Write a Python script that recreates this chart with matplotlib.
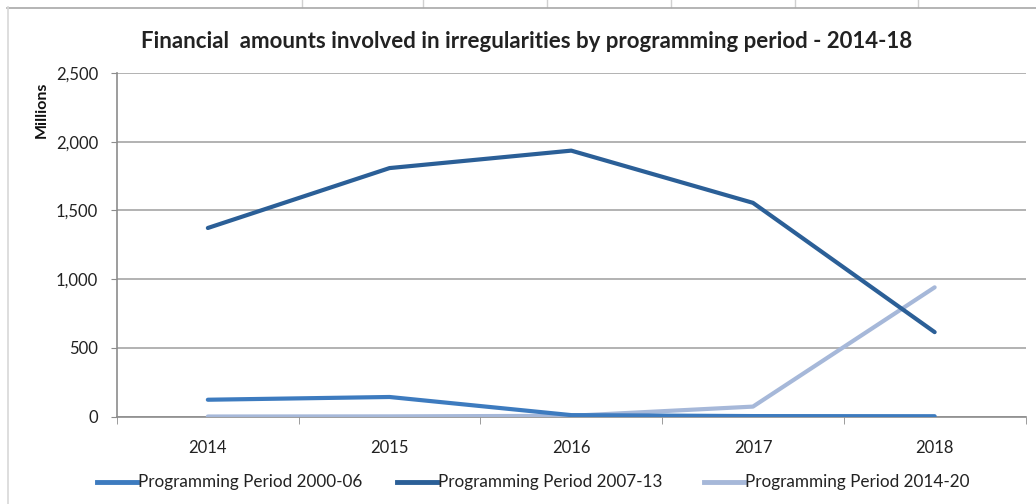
import matplotlib
matplotlib.use("Agg")
import matplotlib.pyplot as plt
from matplotlib.lines import Line2D

years = ["2014", "2015", "2016", "2017", "2018"]
pp_2000_06 = [122, 142, 10, 3, 2]
pp_2007_13 = [1372, 1808, 1935, 1555, 614]
pp_2014_20 = [0, 1, 5, 72, 940]
series_names = ["Programming Period 2000-06", "Programming Period 2007-13", "Programming Period 2014-20"]
colors = ["#3D7BBF", "#2B5F97", "#A6B8D9"]
yticks = [0, 500, 1000, 1500, 2000, 2500]

FONT = ["Lato", "DejaVu Sans"]
plt.rcParams["font.family"] = FONT

W, H = 1036, 504
fig = plt.figure(figsize=(W / 100, H / 100), dpi=100)

def fx(px):
    return px / W

def fy(py):
    return 1 - py / H

# spreadsheet cell borders above the chart
for xp in [302, 423, 547, 671, 795, 918]:
    fig.add_artist(Line2D([fx(xp), fx(xp)], [fy(0), fy(7)], color="#D0D0D0", lw=1))
fig.add_artist(Line2D([fx(7), fx(1036)], [fy(7.5), fy(7.5)], color="#A8A8A8", lw=1.2))
fig.add_artist(Line2D([fx(7.5), fx(7.5)], [fy(7), fy(504)], color="#D8D8D8", lw=1.2))

ax = fig.add_axes([fx(117), fy(416.5), fx(1025.5 - 117), (416.5 - 73) / H])
x = list(range(len(years)))
ax.plot(x, pp_2014_20, color=colors[2], lw=3, solid_capstyle="round", zorder=3)
ax.plot(x, pp_2000_06, color=colors[0], lw=3, solid_capstyle="round", zorder=4)
ax.plot(x, pp_2007_13, color=colors[1], lw=3, solid_capstyle="round", zorder=5)

ax.set_xlim(-0.5, len(years) - 0.5)
ax.set_ylim(0, 2500)
ax.set_yticks(yticks)
ax.set_yticklabels([f"{v:,}" for v in yticks], fontsize=12, color="#222222")
ax.set_xticks(x)
ax.set_xticklabels(years, fontsize=12, color="#222222")
ax.tick_params(axis="x", length=0, pad=17)
ax.set_xticks([i - 0.5 for i in range(len(years) + 1)], minor=True)
ax.tick_params(axis="x", which="minor", length=5, color="#8C8C8C", direction="out")
ax.tick_params(axis="y", length=4.5, color="#8C8C8C", pad=9)
ax.yaxis.grid(True, color="#A6A6A6", lw=1.2)
ax.set_axisbelow(True)
for s in ["top", "right"]:
    ax.spines[s].set_visible(False)
for s in ["left", "bottom"]:
    ax.spines[s].set_color("#8C8C8C")
    ax.spines[s].set_linewidth(1.2)

fig.text(fx(42), fy(110), "Millions", rotation=90, ha="center", va="center",
         fontsize=11.5, fontweight="bold", color="#111111")

fig.text(fx(527), fy(42), "Financial  amounts involved in irregularities by programming period - 2014-18",
         ha="center", va="center", fontsize=16, fontweight="bold", color="#222222")

# legend (manual layout)
leg_x = [97, 397, 704]
for xp, c, name in zip(leg_x, colors, series_names):
    fig.add_artist(Line2D([fx(xp), fx(xp + 40)], [fy(482), fy(482)], color=c, lw=3.5))
    fig.text(fx(xp + 41), fy(482), name, ha="left", va="center", fontsize=12.3, color="#222222")

fig.savefig("out.png", dpi=100)
